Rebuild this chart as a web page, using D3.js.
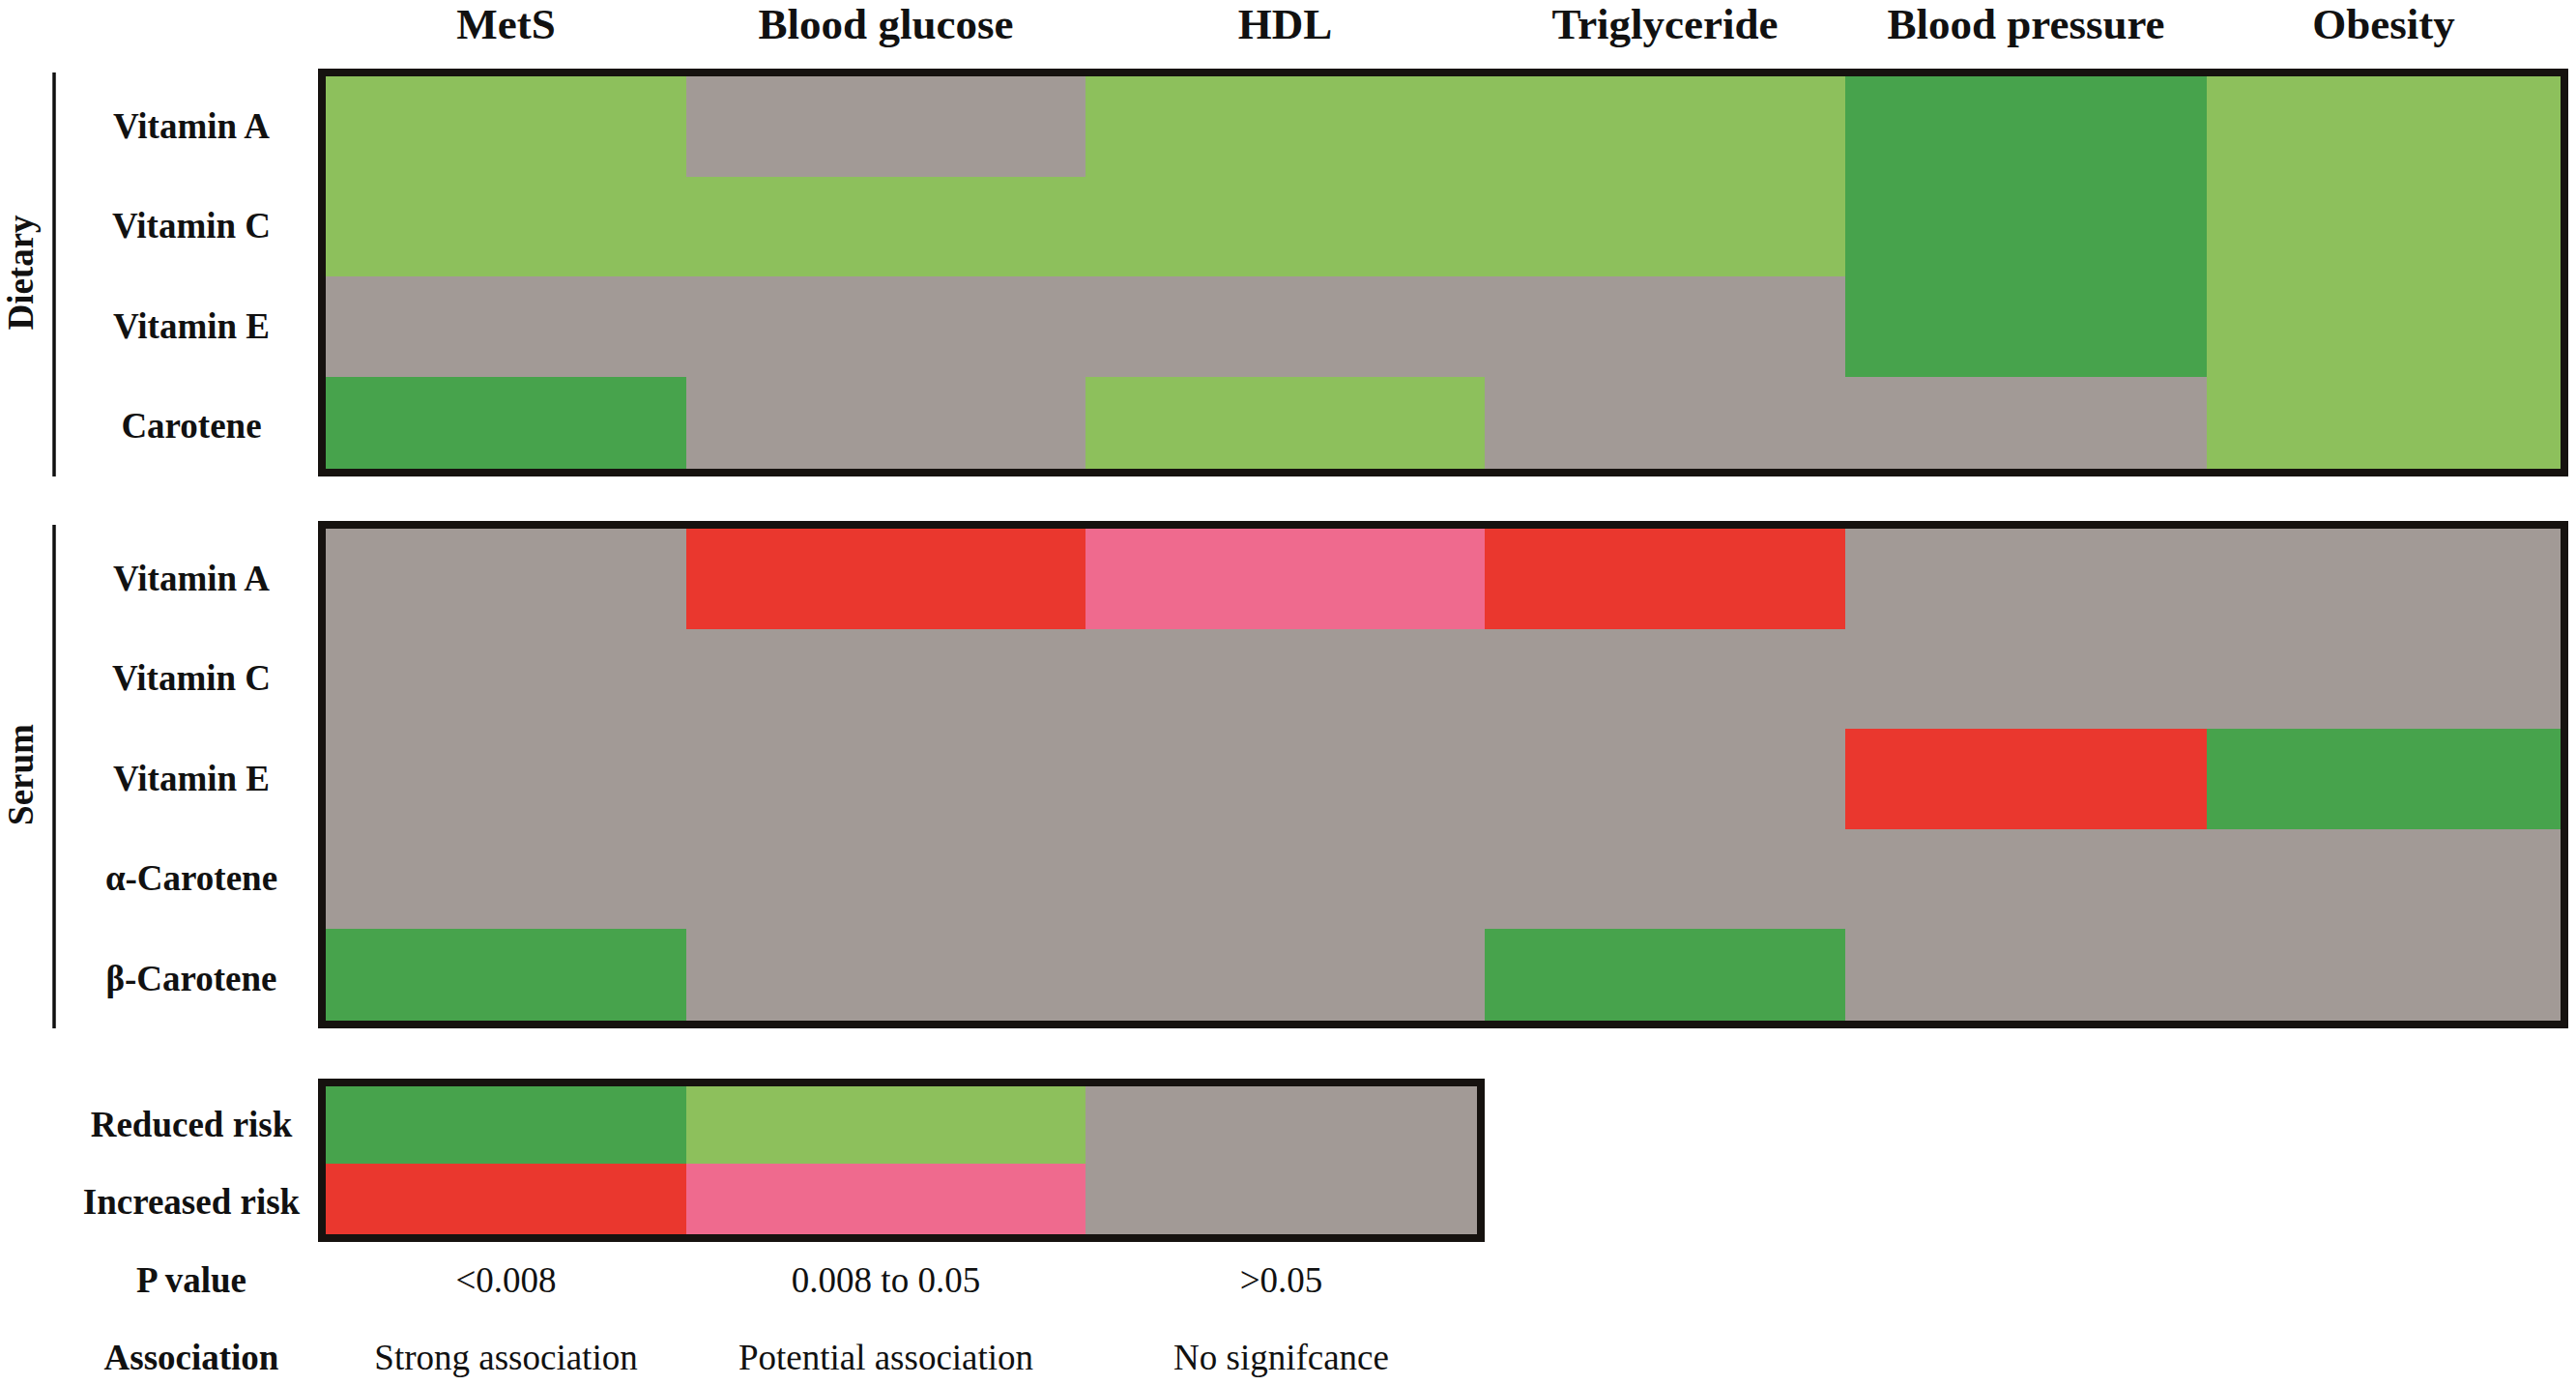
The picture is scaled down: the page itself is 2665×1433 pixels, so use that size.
<!DOCTYPE html>
<html>
<head>
<meta charset="utf-8">
<script src="https://cdn.jsdelivr.net/npm/d3@7"></script>
<style>
  body { margin: 0; background: #fff; }
  text { font-family: "Liberation Serif", "Times New Roman", serif; fill: #111; }
</style>
</head>
<body>
<svg id="chart" width="2665" height="1433"></svg>
<script>
// outcome columns
const columns = ["MetS", "Blood glucose", "HDL", "Triglyceride", "Blood pressure", "Obesity"];

// R2 = reduced risk, strong; R1 = reduced risk, potential; N = no significance
// I1 = increased risk, potential; I2 = increased risk, strong
const dietaryRows = ["Vitamin A", "Vitamin C", "Vitamin E", "Carotene"];
const dietaryValues = [
    ["R1", "N",  "R1", "R1", "R2", "R1"],
    ["R1", "R1", "R1", "R1", "R2", "R1"],
    ["N",  "N",  "N",  "N",  "R2", "R1"],
    ["R2", "N",  "R1", "N",  "N",  "R1"]
];

const serumRows = ["Vitamin A", "Vitamin C", "Vitamin E", "α-Carotene", "β-Carotene"];
const serumValues = [
    ["N",  "I2", "I1", "I2", "N",  "N"],
    ["N",  "N",  "N",  "N",  "N",  "N"],
    ["N",  "N",  "N",  "N",  "I2", "R2"],
    ["N",  "N",  "N",  "N",  "N",  "N"],
    ["R2", "N",  "N",  "R2", "N",  "N"]
];

const legendRows = ["Reduced risk", "Increased risk"];
const legendValues = [
    ["R2", "R1", "N"],
    ["I2", "I1", "N"]
];
const pValueLabels = ["<0.008", "0.008 to 0.05", ">0.05"];
const associationLabels = ["Strong association", "Potential association", "No signifcance"];

const levelCodes = ["R2", "R1", "N", "I1", "I2"];

// ---- layout ----
const colEdges = [337, 710, 1123, 1536, 1909, 2283, 2649];
const legendEdges = [337, 710, 1123, 1528];
const rowStep = 103.5;
const labelX = 198, groupLineX = 56, groupLabelX = 22;
const border = 8;

const color = d3.scaleOrdinal()
    .domain(levelCodes)
    .range(["#47a34c", "#8dc05c", "#a29a96", "#ef6a8e", "#ea372e"]);

const x = d3.scaleOrdinal().domain(columns).range(colEdges.slice(0, -1));
const colWidth = c => colEdges[columns.indexOf(c) + 1] - colEdges[columns.indexOf(c)];

const svg = d3.select("#chart");
svg.append("rect").attr("width", 2665).attr("height", 1433).attr("fill", "#fff");

// column headers
svg.append("g").selectAll("text")
    .data(columns)
    .join("text")
    .attr("x", c => x(c) + colWidth(c) / 2)
    .attr("y", 40)
    .attr("text-anchor", "middle")
    .attr("font-size", 45)
    .attr("font-weight", "bold")
    .text(c => c);

function frame(g, x0, x1, y0, y1) {
    g.append("rect")
        .attr("x", x0 - border / 2)
        .attr("y", y0 - border / 2)
        .attr("width", x1 - x0 + border)
        .attr("height", y1 - y0 + border)
        .attr("fill", "none")
        .attr("stroke", "#16120f")
        .attr("stroke-width", border);
}

function drawPanel(rows, values, top, bottom, group) {
    // last row runs under the bottom frame, like in the original
    const y = d3.scaleBand().domain(rows).range([top, top + rows.length * rowStep]);
    const g = svg.append("g");

    const cells = [];
    values.forEach((row, i) => row.forEach((v, j) => cells.push({row: rows[i], col: columns[j], v})));

    g.selectAll("rect.cell")
        .data(cells)
        .join("rect")
        .attr("class", "cell")
        .attr("x", d => x(d.col))
        .attr("y", d => y(d.row))
        .attr("width", d => colWidth(d.col))
        .attr("height", d => Math.min(y.bandwidth(), bottom - y(d.row)))
        .attr("fill", d => color(d.v))
        .attr("shape-rendering", "crispEdges");

    frame(g, colEdges[0], colEdges[colEdges.length - 1], top, bottom);

    g.selectAll("text.row")
        .data(rows)
        .join("text")
        .attr("class", "row")
        .attr("x", labelX)
        .attr("y", r => y(r) + y.bandwidth() / 2)
        .attr("dy", "0.33em")
        .attr("text-anchor", "middle")
        .attr("font-size", 37)
        .attr("font-weight", "bold")
        .text(r => r);

    // group bracket line + rotated label
    g.append("line")
        .attr("x1", groupLineX).attr("x2", groupLineX)
        .attr("y1", top - 4).attr("y2", bottom + 8)
        .attr("stroke", "#111")
        .attr("stroke-width", 3.5);

    const mid = (top + bottom) / 2;
    g.append("text")
        .attr("transform", `translate(${groupLabelX},${mid}) rotate(-90)`)
        .attr("dy", "0.33em")
        .attr("text-anchor", "middle")
        .attr("font-size", 37)
        .attr("font-weight", "bold")
        .text(group);
}

drawPanel(dietaryRows, dietaryValues, 79, 485, "Dietary");
drawPanel(serumRows, serumValues, 547, 1056, "Serum");

// ---- legend ----
const legendCols = columns.slice(0, 3);
const lx = d3.scaleOrdinal().domain(legendCols).range(legendEdges.slice(0, -1));
const lw = c => legendEdges[legendCols.indexOf(c) + 1] - legendEdges[legendCols.indexOf(c)];
const legendTop = 1124, legendBottom = 1277;
const ly = d3.scaleBand().domain(legendRows).range([legendTop, legendTop + 160]);
const lg = svg.append("g");

const legendCells = [];
legendValues.forEach((row, i) => row.forEach((v, j) => legendCells.push({row: legendRows[i], col: legendCols[j], v})));

lg.selectAll("rect.cell")
    .data(legendCells)
    .join("rect")
    .attr("class", "cell")
    .attr("x", d => lx(d.col))
    .attr("y", d => ly(d.row))
    .attr("width", d => lw(d.col))
    .attr("height", d => Math.min(ly.bandwidth(), legendBottom - ly(d.row)))
    .attr("fill", d => color(d.v))
    .attr("shape-rendering", "crispEdges");

frame(lg, legendEdges[0], legendEdges[3], legendTop, legendBottom);

lg.selectAll("text.row")
    .data(legendRows)
    .join("text")
    .attr("class", "row")
    .attr("x", labelX)
    .attr("y", r => ly(r) + ly.bandwidth() / 2)
    .attr("dy", "0.33em")
    .attr("text-anchor", "middle")
    .attr("font-size", 37)
    .attr("font-weight", "bold")
    .text(r => r);

[["P value", pValueLabels, 1325], ["Association", associationLabels, 1405]].forEach(([title, labels, cy]) => {
    lg.append("text")
        .attr("x", labelX)
        .attr("y", cy)
        .attr("dy", "0.33em")
        .attr("text-anchor", "middle")
        .attr("font-size", 37)
        .attr("font-weight", "bold")
        .text(title);

    lg.selectAll(null)
        .data(labels)
        .join("text")
        .attr("x", (d, i) => lx(legendCols[i]) + lw(legendCols[i]) / 2)
        .attr("y", cy)
        .attr("dy", "0.33em")
        .attr("text-anchor", "middle")
        .attr("font-size", 37)
        .text(d => d);
});
</script>
</body>
</html>
